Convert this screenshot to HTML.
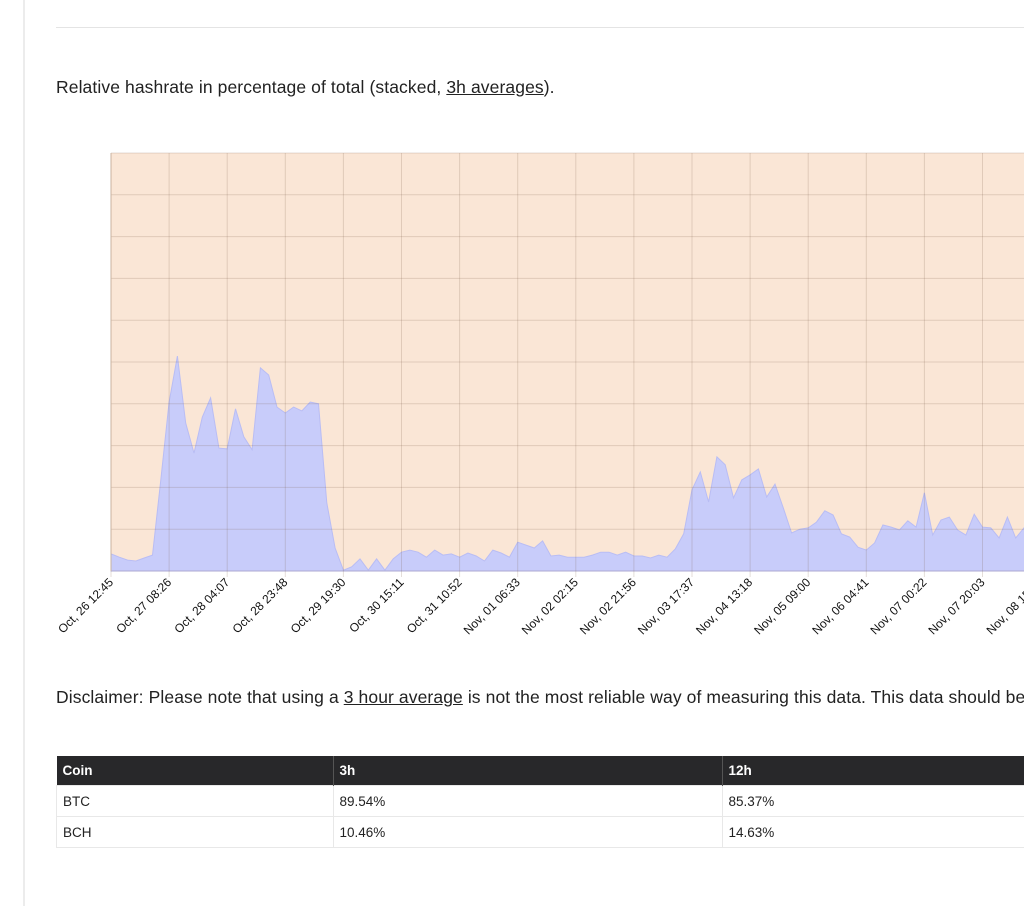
<!DOCTYPE html>
<html><head><meta charset="utf-8">
<style>
body{margin:0;width:1024px;height:906px;overflow:hidden;background:#fff;font-family:"Liberation Sans",sans-serif;color:#222;position:relative}
.vl{position:absolute;left:23px;top:0;width:2px;height:906px;background:#ececec}
.hr{position:absolute;left:56px;top:27px;width:968px;height:1px;background:#e4e4e4}
.p{position:absolute;left:56px;font-size:17.5px;white-space:nowrap;letter-spacing:0.1px}
.p u{text-decoration:underline}
table{position:absolute;left:56px;top:756px;border-collapse:collapse;font-size:13.5px;width:1100px}
th{background:#28282a;color:#fff;text-align:left;font-weight:bold;height:29px;padding:0 6px;border-right:1px solid #555}
td{height:30px;padding:0 6px;border:1px solid #e8e8e8}
</style></head><body>
<div class="vl"></div>
<div class="hr"></div>
<div class="p" style="top:77px">Relative hashrate in percentage of total (stacked, <u>3h averages</u>).</div>
<svg id="chart" width="1024" height="680" style="position:absolute;left:0;top:0"></svg>
<div class="p" style="top:687px">Disclaimer: Please note that using a <u>3 hour average</u> is not the most reliable way of measuring this data. This data should be</div>
<table>
<tr><th style="width:264px">Coin</th><th style="width:376px">3h</th><th>12h</th></tr>
<tr><td>BTC</td><td>89.54%</td><td>85.37%</td></tr>
<tr><td>BCH</td><td>10.46%</td><td>14.63%</td></tr>
</table>
<script>
const bchValues=[4.1,3.3,2.6,2.4,3.1,3.8,21.8,40.4,51.4,35.4,28.2,36.8,41.4,29.4,29.2,38.8,32.1,29.0,48.6,46.9,39.2,37.8,39.2,38.3,40.4,40.0,16.3,5.5,0.2,1.0,2.9,0.2,2.9,0.2,2.9,4.5,5.0,4.5,3.3,5.0,3.8,4.1,3.3,4.3,3.6,2.4,5.0,4.3,3.3,6.9,6.2,5.5,7.2,3.6,3.8,3.3,3.3,3.3,3.8,4.5,4.5,3.8,4.5,3.6,3.6,3.1,3.8,3.3,5.3,8.9,19.4,23.7,16.5,27.3,25.4,17.5,21.8,23.0,24.4,17.7,20.8,15.1,9.1,10.0,10.3,11.7,14.4,13.4,8.9,8.1,5.7,5.0,6.7,11.0,10.5,9.8,12.0,10.5,18.7,8.6,12.2,12.9,9.8,8.6,13.6,10.5,10.3,7.9,12.9,7.9,10.3,13.9];
const tickLabels=["Oct, 26 12:45","Oct, 27 08:26","Oct, 28 04:07","Oct, 28 23:48","Oct, 29 19:30","Oct, 30 15:11","Oct, 31 10:52","Nov, 01 06:33","Nov, 02 02:15","Nov, 02 21:56","Nov, 03 17:37","Nov, 04 13:18","Nov, 05 09:00","Nov, 06 04:41","Nov, 07 00:22","Nov, 07 20:03","Nov, 08 15:44"];
const yTicks=[0,10,20,30,40,50,60,70,80,90,100];
const NS="http://www.w3.org/2000/svg";
const svg=document.getElementById('chart');
const L=111,T=153,B=571,R=1024,STEP=8.3,TICKEVERY=7;
const x=i=>L+i*STEP;
const y=v=>B-(v/100)*(B-T);
function mk(t,a){const e=document.createElementNS(NS,t);for(const k in a)e.setAttribute(k,a[k]);svg.appendChild(e);return e;}
const bg=mk('rect',{x:L,y:T,width:R-L,height:B-T,fill:'#fae6d6'});


let d='M'+x(0)+','+B;
bchValues.forEach((v,i)=>{d+=' L'+x(i).toFixed(1)+','+y(v).toFixed(1);});
d+=' L'+x(bchValues.length-1).toFixed(1)+','+B+' Z';
const area=mk('path',{d:d,fill:'#c8ccfa',stroke:'#b9bdf4','stroke-width':1});


yTicks.forEach(t=>{const g=mk('line',{x1:L,x2:R,y1:y(t),y2:y(t),stroke:'rgba(120,90,70,0.2)','stroke-width':1});

});
tickLabels.forEach((lab,k)=>{const xx=x(k*TICKEVERY);
const g=mk('line',{x1:xx,x2:xx,y1:T,y2:B+6,stroke:'rgba(120,90,70,0.2)','stroke-width':1});


const t=mk('text',{x:xx+3,y:B+12,'font-size':12,'font-family':'Liberation Sans, sans-serif',fill:'#111','text-anchor':'end',transform:'rotate(-45 '+(xx+3)+' '+(B+12)+')'});
t.textContent=lab;

});
const ax=mk('line',{x1:L,x2:L,y1:T,y2:B,stroke:'#c9b3a0','stroke-width':1});


</script>
</body></html>
